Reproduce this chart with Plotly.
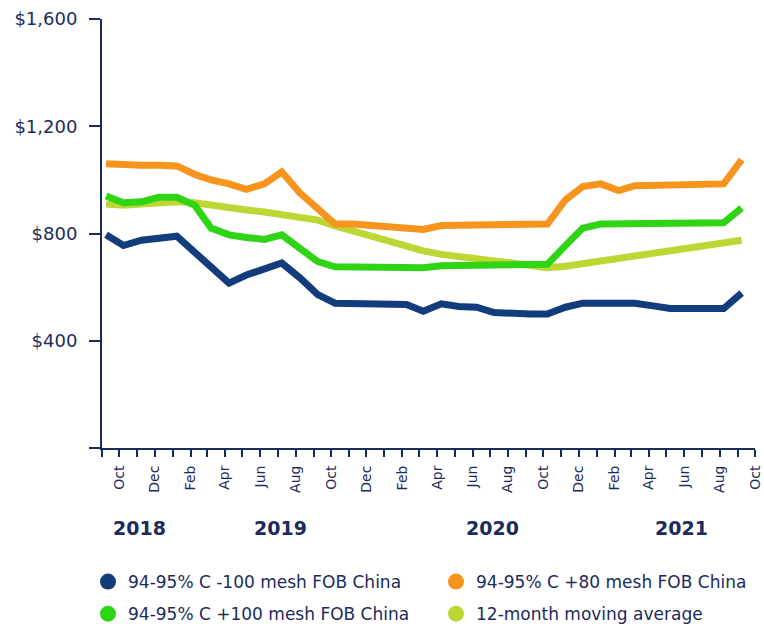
import pandas as pd
import plotly.graph_objects as go

# Monthly price observations, Sep 2018 - Sep 2021 (US$/t)
start_month = "2018-09-01"
n_months = 37
obs_dates = pd.date_range(start_month, periods=n_months, freq="MS") + pd.Timedelta(days=7)

minus100_fob = [795, 755, 775, 785, 790, 730, 675, 615, 645, 670, 690, 635, 572, 540,
                540, 540, 540, 535, 510, 538, 528, 525, 505, 500, 500, 500, 525, 540,
                540, 540, 540, 530, 520, 520, 520, 520, 578]
plus80_fob = [1060, 1055, 1055, 1055, 1052, 1020, 1000, 985, 965, 985, 1030, 952, 890,
              835, 835, 830, 828, 825, 815, 830, 830, 830, 832, 836, 835, 835, 925,
              975, 985, 960, 978, 980, 985, 985, 985, 985, 1075]
plus100_fob = [940, 915, 918, 935, 935, 905, 820, 795, 785, 778, 795, 745, 695, 676,
               675, 675, 674, 673, 672, 680, 680, 680, 682, 683, 683, 685, 755, 820,
               835, 835, 835, 838, 838, 838, 838, 840, 895]
moving_avg_12m = [910, 905, 910, 915, 918, 915, 905, 895, 888, 880, 872, 862, 850, 828,
                  808, 790, 770, 752, 735, 722, 712, 705, 698, 690, 680, 672, 678, 688,
                  698, 708, 718, 728, 738, 748, 757, 765, 775]

series_names = ["94-95% C -100 mesh FOB China", "94-95% C +80 mesh FOB China",
                "94-95% C +100 mesh FOB China", "12-month moving average"]
series_colors = ["#123c7c", "#f7941e", "#2fd515", "#bed634"]

y_tick_values = [0, 400, 800, 1200, 1600]
y_tick_text = ["", "$400", "$800", "$1,200", "$1,600"]

year_labels = ["2018", "2019", "2020", "2021"]
year_label_dates = ["2018-11-05", "2019-07-05", "2020-07-05", "2021-05-27"]

NAVY = "#1b2b5b"
FONT = "DejaVu Sans"

fig = go.Figure()

# lines, drawn bottom-up: moving average, +100, +80, -100
draw_order = [3, 2, 1, 0]
values = [minus100_fob, plus80_fob, plus100_fob, moving_avg_12m]
for i in draw_order:
    fig.add_trace(go.Scatter(
        x=obs_dates, y=values[i], mode="lines",
        line=dict(color=series_colors[i], width=7),
        showlegend=False, hoverinfo="skip",
    ))

# circular legend keys, two columns
legend_of = ["legend", "legend2", "legend", "legend2"]
for i in range(4):
    fig.add_trace(go.Scatter(
        x=[None], y=[None], mode="markers", name=series_names[i],
        marker=dict(color=series_colors[i], size=16),
        legend=legend_of[i], legendgroup=f"g{i}",
    ))

legend_style = dict(
    orientation="v", xanchor="left", yanchor="top",
    yref="container", y=1 - 564 / 627,
    font=dict(family=FONT, size=17, color=NAVY),
    bgcolor="rgba(0,0,0,0)", tracegroupgap=7, itemsizing="trace",
)
fig.update_layout(
    legend=dict(xref="container", x=88 / 764, **legend_style),
    legend2=dict(xref="container", x=436 / 764, **legend_style),
)

for label, d in zip(year_labels, year_label_dates):
    fig.add_annotation(
        x=d, xref="x", y=-0.187, yref="paper", text=f"<b>{label}</b>",
        showarrow=False, xanchor="center", yanchor="middle",
        font=dict(family=FONT, size=19, color=NAVY),
    )

fig.update_xaxes(
    type="date", range=["2018-09-01", "2021-10-01"],
    showgrid=False, zeroline=False,
    showline=True, linecolor=NAVY, linewidth=2,
    tick0="2018-10-01", dtick="M2", tickformat="%b",
    ticks="outside", ticklen=7, tickwidth=2, tickcolor=NAVY,
    tickangle=-90, ticklabelstandoff=3,
    tickfont=dict(family=FONT, size=14, color=NAVY),
    minor=dict(dtick="M1", tick0="2018-09-01", ticks="outside", ticklen=7,
               tickwidth=2, tickcolor=NAVY, showgrid=False),
)
fig.update_yaxes(
    range=[0, 1600], tickmode="array", tickvals=y_tick_values, ticktext=y_tick_text,
    showgrid=False, zeroline=False,
    showline=True, linecolor=NAVY, linewidth=2,
    ticks="outside", ticklen=11, tickwidth=2, tickcolor=NAVY,
    ticklabelstandoff=8,
    tickfont=dict(family=FONT, size=18, color=NAVY),
)

fig.update_layout(
    width=764, height=627,
    margin=dict(l=102, r=9, t=19, b=179, autoexpand=False),
    plot_bgcolor="white", paper_bgcolor="white",
    font=dict(family=FONT, color=NAVY),
)

fig.write_html("out.html")
